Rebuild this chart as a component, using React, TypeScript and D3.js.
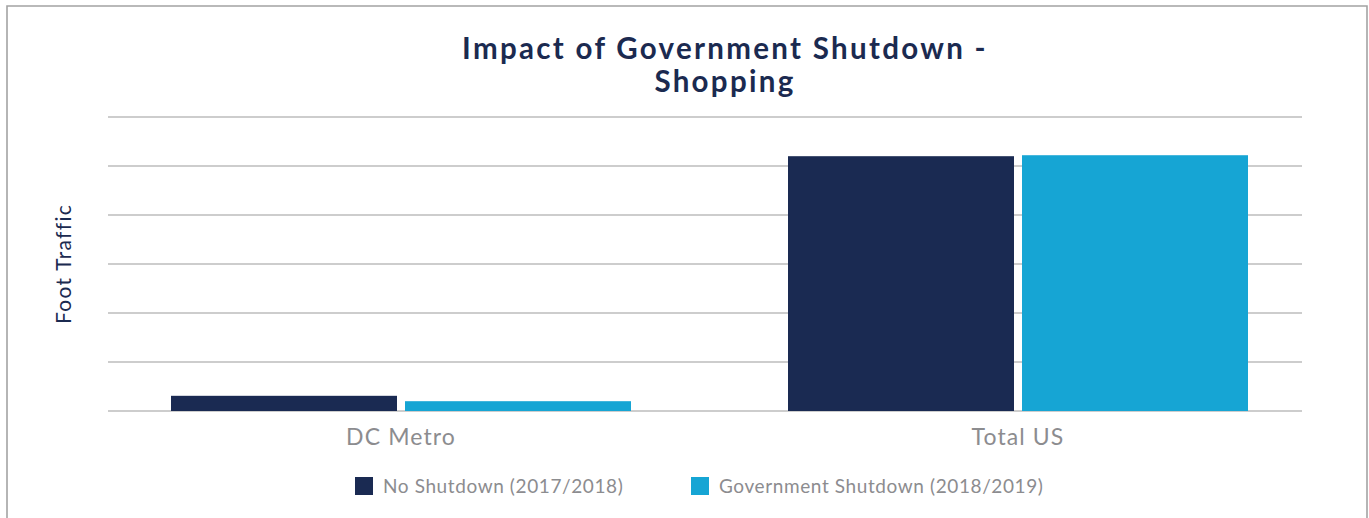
import React from "react";
import * as d3 from "d3";

const categories = ["DC Metro", "Total US"];
const seriesNames = ["No Shutdown (2017/2018)", "Government Shutdown (2018/2019)"];
const noShutdown = [0.31, 5.2];
const govShutdown = [0.2, 5.22];
const yTicks = [0, 1, 2, 3, 4, 5, 6];
const titleLines = ["Impact of Government Shutdown -", "Shopping"];
const yLabel = "Foot Traffic";

const colors = ["#1a2a52", "#16a5d4"];
const FONT = "Lato, 'Open Sans', sans-serif";

export default function App() {
  const W = 1369, H = 518;
  const gridX0 = 108, gridX1 = 1302;
  const y = d3.scaleLinear().domain([0, 6]).range([411, 117]);
  const x = d3.scaleBand<string>().domain(categories).range([92.5, 1326.5]).padding(0);
  const groupW = 460;
  const inner = d3.scaleBand<string>().domain(seriesNames).range([0, groupW]).paddingInner(8 / 234).paddingOuter(0);
  const series = [noShutdown, govShutdown];

  return (
    <div style={{ position: "absolute", left: 0, top: 0 }}>
      <svg width={W} height={H} style={{ display: "block" }}>
        <rect width={W} height={H} fill="#fff" />
        <path d={`M7,${H + 2} V6 H1367 V${H + 2}`} fill="none" stroke="#a3a3a3" strokeWidth={1.6} />
        {titleLines.map((t, i) => (
          <text key={i} x={725} y={59 + i * 33} textAnchor="middle" fill="#1b2a50"
            fontFamily={FONT} fontWeight={700} fontSize={29.5} letterSpacing={2.3}>{t}</text>
        ))}
        {yTicks.map((t) => (
          <line key={t} x1={gridX0} x2={gridX1} y1={y(t)} y2={y(t)} stroke="#bdbdbd" strokeWidth={1.5} />
        ))}
        {categories.map((c, ci) => {
          const gx = (x(c) as number) + (x.bandwidth() - groupW) / 2;
          return (
            <g key={c}>
              {seriesNames.map((s, si) => (
                <rect key={s} x={gx + (inner(s) as number)} width={inner.bandwidth()}
                  y={y(series[si][ci])} height={y(0) - y(series[si][ci])} fill={colors[si]} />
              ))}
              <text x={(x(c) as number) + x.bandwidth() / 2} y={445} textAnchor="middle"
                fill="#8c8c8f" fontFamily={FONT} fontSize={23} letterSpacing={1.1}>{c}</text>
            </g>
          );
        })}
        <text transform={`translate(71,264) rotate(-90)`} textAnchor="middle" fill="#1b2a50"
          fontFamily={FONT} fontSize={21} letterSpacing={1.3}>{yLabel}</text>
        {seriesNames.map((s, i) => {
          const lx = [355, 691][i];
          return (
            <g key={s}>
              <rect x={lx} y={477} width={18} height={18} fill={colors[i]} />
              <text x={lx + 28} y={493} fill="#8c8c8f" fontFamily={FONT} fontSize={19} letterSpacing={0.6}>{s}</text>
            </g>
          );
        })}
      </svg>
    </div>
  );
}
